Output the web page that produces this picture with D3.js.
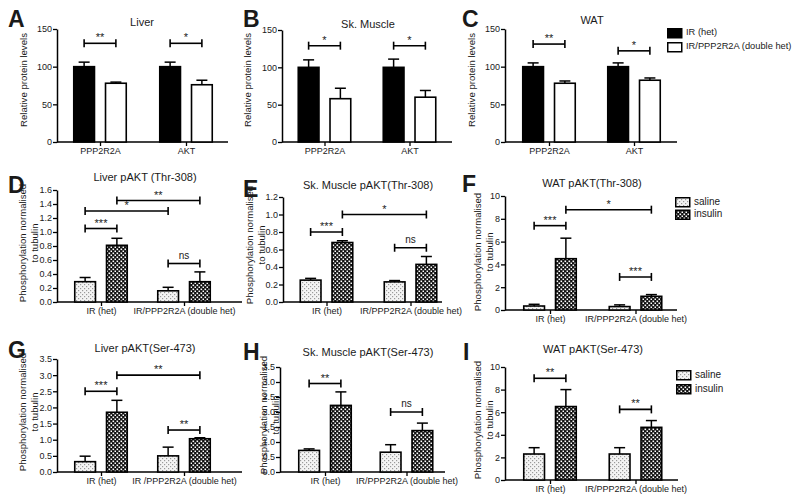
<!DOCTYPE html>
<html><head><meta charset="utf-8">
<script src="https://cdn.jsdelivr.net/npm/d3@7"></script>
<style>
body{margin:0;background:#fff}
svg{display:block}
text{font-family:"Liberation Sans",Arial,Helvetica,sans-serif;fill:#1a1a1a}
</style>
</head><body>
<svg id="c" width="800" height="503"></svg>
<script>
// ---------------- DATA ----------------
const proteinGroups = ["PPP2R2A", "AKT"];
const genotypes = ["IR (het)", "IR/PPP2R2A (double het)"];
const genotypesG = ["IR (het)", "IR /PPP2R2A (double het)"];
const treatments = ["saline", "insulin"];

const proteinTicks = [0, 50, 100, 150];
const ticks16 = [0, 0.2, 0.4, 0.6, 0.8, 1.0, 1.2, 1.4, 1.6];
const ticks12 = [0, 0.2, 0.4, 0.6, 0.8, 1.0, 1.2];
const ticks35 = [0, 0.5, 1.0, 1.5, 2.0, 2.5, 3.0, 3.5];
const ticks10 = [0, 2, 4, 6, 8, 10];

// [group][series] means and SEM (upper error)
const liverProtein = [[100, 78], [100, 76]];
const liverProteinErr = [[6, 1.5], [6, 6]];
const muscleProtein = [[100, 58], [100, 60]];
const muscleProteinErr = [[10, 14], [11, 9]];
const watProtein = [[100, 78], [100, 82]];
const watProteinErr = [[5, 3], [5, 3]];

const liverThr = [[0.29, 0.81], [0.16, 0.29]];
const liverThrErr = [[0.06, 0.10], [0.05, 0.14]];
const muscleThr = [[0.25, 0.68], [0.23, 0.43]];
const muscleThrErr = [[0.02, 0.02], [0.015, 0.09]];
const watThr = [[0.35, 4.5], [0.3, 1.2]];
const watThrErr = [[0.15, 1.8], [0.15, 0.15]];

const liverSer = [[0.32, 1.85], [0.5, 1.03]];
const liverSerErr = [[0.17, 0.37], [0.27, 0.03]];
const muscleSer = [[0.72, 2.22], [0.66, 1.38]];
const muscleSerErr = [[0.05, 0.45], [0.25, 0.25]];
const watSer = [[2.3, 6.5], [2.3, 4.66]];
const watSerErr = [[0.56, 1.5], [0.56, 0.6]];

// significance brackets: [group1, series1, group2, series2, height, label]
const liverProteinSig = [[0, 0, 0, 1, 131, "**"], [1, 0, 1, 1, 131, "*"]];
const muscleProteinSig = [[0, 0, 0, 1, 129, "*"], [1, 0, 1, 1, 129, "*"]];
const watProteinSig = [[0, 0, 0, 1, 130, "**"], [1, 0, 1, 1, 121, "*"]];
const liverThrSig = [[0, 0, 0, 1, 1.05, "***"], [0, 0, 1, 0, 1.3, "*"], [0, 1, 1, 1, 1.45, "**"], [1, 0, 1, 1, 0.55, "ns"]];
const muscleThrSig = [[0, 0, 0, 1, 0.8, "***"], [0, 1, 1, 1, 1.0, "*"], [1, 0, 1, 1, 0.62, "ns"]];
const watThrSig = [[0, 0, 0, 1, 7.4, "***"], [0, 1, 1, 1, 8.8, "*"], [1, 0, 1, 1, 2.9, "***"]];
const liverSerSig = [[0, 0, 0, 1, 2.5, "***"], [0, 1, 1, 1, 3.0, "**"], [1, 0, 1, 1, 1.3, "**"]];
const muscleSerSig = [[0, 0, 0, 1, 2.95, "**"], [1, 0, 1, 1, 2.0, "ns"]];
const watSerSig = [[0, 0, 0, 1, 9.0, "**"], [1, 0, 1, 1, 6.25, "**"]];

// ---------------- DRAWING ----------------
const svg = d3.select("#c");
const defs = svg.append("defs");
const pSal = defs.append("pattern").attr("id", "saline").attr("patternUnits", "userSpaceOnUse").attr("width", 4).attr("height", 4);
pSal.append("rect").attr("width", 4).attr("height", 4).attr("fill", "#f4f4f4");
pSal.append("rect").attr("x", 0).attr("y", 0).attr("width", 1.2).attr("height", 1.2).attr("fill", "#9a9a9a");
pSal.append("rect").attr("x", 2).attr("y", 2).attr("width", 1.2).attr("height", 1.2).attr("fill", "#9a9a9a");
const pIns = defs.append("pattern").attr("id", "insulin").attr("patternUnits", "userSpaceOnUse").attr("width", 4).attr("height", 4);
pIns.append("rect").attr("width", 4).attr("height", 4).attr("fill", "#111");
pIns.append("rect").attr("x", 0.5).attr("y", 0.5).attr("width", 1.6).attr("height", 1.6).attr("fill", "#fff");
pIns.append("rect").attr("x", 2.5).attr("y", 2.5).attr("width", 1.6).attr("height", 1.6).attr("fill", "#fff");

const proteinFills = ["#000", "#fff"];
const treatFills = ["url(#saline)", "url(#insulin)"];

function drawPanel(c) {
  const g = svg.append("g");
  const y = d3.scaleLinear().domain([0, c.ymax]).range([c.y0, c.y1]);
  const x = d3.scalePoint().domain(c.groups).range([c.gx0, c.gx1]);
  const xs = d3.scaleBand().domain(c.series).range([-27, 27]).paddingInner(0.3);
  const bw = xs.bandwidth();
  const cx = (gi, si) => x(c.groups[gi]) + xs(c.series[si]) + bw / 2;

  // y axis
  const ya = g.append("g").attr("transform", `translate(${c.ax},0)`)
    .call(d3.axisLeft(y).tickValues(c.ticks).tickFormat(c.fmt).tickSize(4).tickSizeOuter(0).tickPadding(1));
  ya.select(".domain").attr("stroke", "#000").attr("stroke-width", 1.5);
  ya.selectAll(".tick line").attr("stroke", "#000").attr("stroke-width", 1.3);
  ya.selectAll(".tick text").style("font-size", "9px").attr("fill", "#1a1a1a");

  // x axis
  g.append("line").attr("x1", c.ax).attr("x2", c.axEnd).attr("y1", c.y0).attr("y2", c.y0)
    .attr("stroke", "#000").attr("stroke-width", 1.5);
  const xa = g.append("g").attr("transform", `translate(0,${c.y0})`)
    .call(d3.axisBottom(x).tickSize(4).tickSizeOuter(0).tickPadding(2).tickFormat((d, i) => c.labels[i]));
  xa.select(".domain").remove();
  xa.selectAll(".tick line").attr("stroke", "#000").attr("stroke-width", 1.3);
  xa.selectAll(".tick text").style("font-size", "9px").attr("fill", "#1a1a1a");

  // bars
  const cells = [];
  c.mean.forEach((row, gi) => row.forEach((v, si) => cells.push({gi, si, v, e: c.err[gi][si]})));
  g.selectAll("rect.bar").data(cells).enter().append("rect")
    .attr("x", d => cx(d.gi, d.si) - bw / 2 + 0.75)
    .attr("width", bw - 1.5)
    .attr("y", d => y(d.v))
    .attr("height", d => c.y0 - y(d.v))
    .attr("fill", d => c.fills[d.si])
    .attr("stroke", "#000").attr("stroke-width", 1.6);
  // error bars (upper)
  g.selectAll("line.ev").data(cells).enter().append("line")
    .attr("x1", d => cx(d.gi, d.si)).attr("x2", d => cx(d.gi, d.si))
    .attr("y1", d => y(d.v)).attr("y2", d => y(d.v + d.e))
    .attr("stroke", "#000").attr("stroke-width", 1.5);
  g.selectAll("line.ec").data(cells).enter().append("line")
    .attr("x1", d => cx(d.gi, d.si) - 5.5).attr("x2", d => cx(d.gi, d.si) + 5.5)
    .attr("y1", d => y(d.v + d.e)).attr("y2", d => y(d.v + d.e))
    .attr("stroke", "#000").attr("stroke-width", 1.5);

  // significance brackets
  c.sig.forEach(s => {
    const x1 = cx(s[0], s[1]), x2 = cx(s[2], s[3]), yy = y(s[4]);
    g.append("line").attr("x1", x1).attr("x2", x2).attr("y1", yy).attr("y2", yy).attr("stroke", "#000").attr("stroke-width", 1.6);
    [x1, x2].forEach(xx => g.append("line").attr("x1", xx).attr("x2", xx).attr("y1", yy - 4).attr("y2", yy + 4).attr("stroke", "#000").attr("stroke-width", 1.6));
    g.append("text").attr("x", (x1 + x2) / 2).attr("y", s[5] === "ns" ? yy - 5 : yy - 2)
      .attr("text-anchor", "middle").style("font-size", s[5] === "ns" ? "10px" : "11px").text(s[5]);
  });

  // title
  g.append("text").attr("x", c.tx).attr("y", c.ty).attr("text-anchor", "middle").style("font-size", "11px").text(c.title);
  // y title
  c.ytitle.forEach((t, i) => {
    g.append("text").attr("transform", `translate(${c.ytx[i]},${c.tyc}) rotate(-90)`)
      .attr("text-anchor", "middle").attr("dominant-baseline", "middle").style("font-size", "9.6px").text(t);
  });
  // letter
  g.append("text").attr("x", c.lx).attr("y", c.ly).style("font-size", "23px").style("font-weight", "bold").attr("fill", "#000").text(c.letter);
}

const f0 = d3.format("d"), f1 = d3.format(".1f");
const yProt = ["Relative protein levels"];
const yPhos = ["Phosphorylation normalised", "to tubulin"];

drawPanel({letter: "A", lx: 8, ly: 27, title: "Liver", tx: 142, ty: 26, ytitle: yProt, ytx: [24], tyc: 80,
  ax: 57, axEnd: 228, y0: 142, y1: 29, ymax: 150, ticks: proteinTicks, fmt: f0,
  groups: proteinGroups, labels: proteinGroups, gx0: 100, gx1: 186, series: genotypes, fills: proteinFills,
  mean: liverProtein, err: liverProteinErr, sig: liverProteinSig});
drawPanel({letter: "B", lx: 243, ly: 27, title: "Sk. Muscle", tx: 368, ty: 28, ytitle: yProt, ytx: [248], tyc: 80,
  ax: 282, axEnd: 452, y0: 142, y1: 30, ymax: 150, ticks: proteinTicks, fmt: f0,
  groups: proteinGroups, labels: proteinGroups, gx0: 324.5, gx1: 409.5, series: genotypes, fills: proteinFills,
  mean: muscleProtein, err: muscleProteinErr, sig: muscleProteinSig});
drawPanel({letter: "C", lx: 462, ly: 27, title: "WAT", tx: 592, ty: 24, ytitle: yProt, ytx: [472], tyc: 80,
  ax: 505, axEnd: 677, y0: 142, y1: 29, ymax: 150, ticks: proteinTicks, fmt: f0,
  groups: proteinGroups, labels: proteinGroups, gx0: 549, gx1: 634, series: genotypes, fills: proteinFills,
  mean: watProtein, err: watProteinErr, sig: watProteinSig});

drawPanel({letter: "D", lx: 8, ly: 193, title: "Liver pAKT (Thr-308)", tx: 145, ty: 181, ytitle: yPhos, ytx: [23, 35], tyc: 243,
  ax: 57, axEnd: 242, y0: 302, y1: 190, ymax: 1.6, ticks: ticks16, fmt: f1,
  groups: genotypes, labels: genotypes, gx0: 101, gx1: 184, series: treatments, fills: treatFills,
  mean: liverThr, err: liverThrErr, sig: liverThrSig});
drawPanel({letter: "E", lx: 243, ly: 197, title: "Sk. Muscle pAKT(Thr-308)", tx: 368, ty: 189, ytitle: yPhos, ytx: [250, 262], tyc: 245,
  ax: 283, axEnd: 442, y0: 302, y1: 197, ymax: 1.2, ticks: ticks12, fmt: f1,
  groups: genotypes, labels: genotypes, gx0: 326.5, gx1: 410.5, series: treatments, fills: treatFills,
  mean: muscleThr, err: muscleThrErr, sig: muscleThrSig});
drawPanel({letter: "F", lx: 462, ly: 192, title: "WAT pAKT(Thr-308)", tx: 592, ty: 187, ytitle: yPhos, ytx: [478, 490], tyc: 252,
  ax: 505, axEnd: 677, y0: 310, y1: 196, ymax: 10, ticks: ticks10, fmt: f0,
  groups: genotypes, labels: genotypes, gx0: 550, gx1: 635.5, series: treatments, fills: treatFills,
  mean: watThr, err: watThrErr, sig: watThrSig});

drawPanel({letter: "G", lx: 8, ly: 358, title: "Liver pAKT(Ser-473)", tx: 145, ty: 352, ytitle: yPhos, ytx: [23, 35], tyc: 412,
  ax: 57, axEnd: 242, y0: 472, y1: 359, ymax: 3.5, ticks: ticks35, fmt: f1,
  groups: genotypesG, labels: genotypesG, gx0: 101, gx1: 184, series: treatments, fills: treatFills,
  mean: liverSer, err: liverSerErr, sig: liverSerSig});
drawPanel({letter: "H", lx: 243, ly: 360, title: "Sk. Muscle pAKT(Ser-473)", tx: 368, ty: 356, ytitle: yPhos, ytx: [264, 276], tyc: 415,
  ax: 280, axEnd: 445, y0: 472, y1: 367, ymax: 3.5, ticks: ticks35, fmt: f1,
  groups: genotypes, labels: genotypes, gx0: 325, gx1: 406.5, series: treatments, fills: treatFills,
  mean: muscleSer, err: muscleSerErr, sig: muscleSerSig});
drawPanel({letter: "I", lx: 463, ly: 360, title: "WAT pAKT(Ser-473)", tx: 593, ty: 353, ytitle: yPhos, ytx: [478, 490], tyc: 420,
  ax: 505, axEnd: 678, y0: 480, y1: 367, ymax: 10, ticks: ticks10, fmt: f0,
  groups: genotypes, labels: genotypes, gx0: 550, gx1: 635.5, series: treatments, fills: treatFills,
  mean: watSer, err: watSerErr, sig: watSerSig});

// legends
function legend(x0, y0, names, fills, gap, fs) {
  const lg = svg.append("g").attr("transform", `translate(${x0},${y0})`);
  names.forEach((n, i) => {
    lg.append("rect").attr("x", 0.75).attr("y", i * gap + 0.75).attr("width", 14).attr("height", 9)
      .attr("fill", fills[i]).attr("stroke", "#000").attr("stroke-width", 1.5);
    lg.append("text").attr("x", 19).attr("y", i * gap + 5).attr("dominant-baseline", "middle")
      .style("font-size", fs).text(n);
  });
}
legend(667, 28, genotypes, proteinFills, 14, "9.3px");
legend(675, 197, treatments, treatFills, 12.5, "10px");
legend(676, 370, treatments, treatFills, 14, "10px");
</script>
</body></html>
